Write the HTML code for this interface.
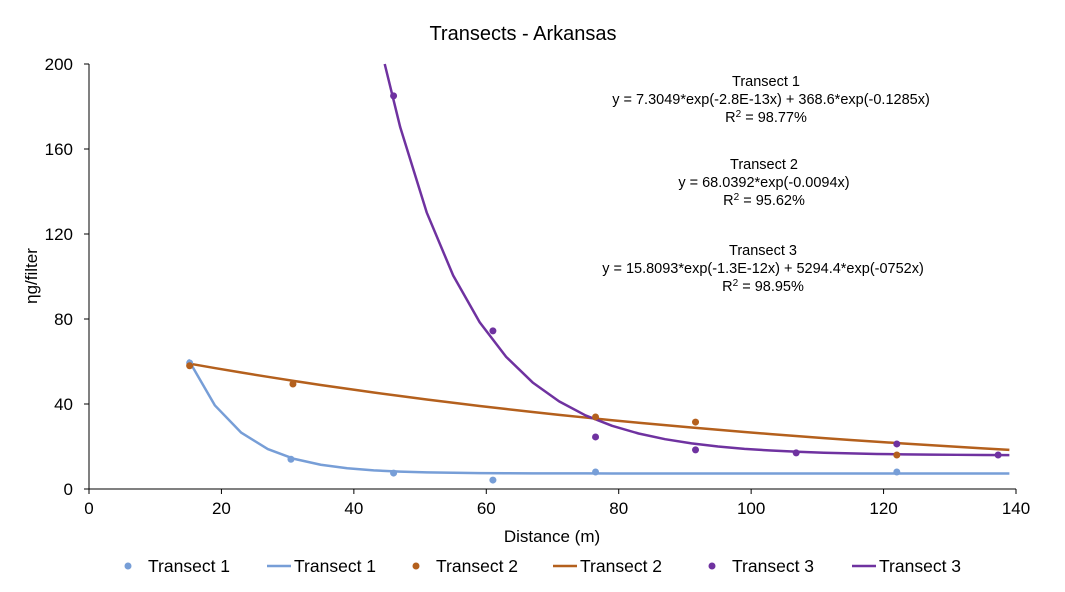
<!DOCTYPE html>
<html><head><meta charset="utf-8"><style>
body{margin:0;background:#fff;}
svg{display:block;font-family:"Liberation Sans",Arial,sans-serif;}
</style></head><body>
<svg id="chart" width="1065" height="592">
<rect width="1065" height="592" fill="#fff"/>
<text x="523" y="40" font-size="20" text-anchor="middle">Transects - Arkansas</text>
<g id="axes"></g>
<g id="lines"></g>
<g id="points"></g>
<g font-size="14.5" text-anchor="middle">
<text x="766" y="86">Transect 1</text>
<text x="771" y="104">y = 7.3049*exp(-2.8E-13x) + 368.6*exp(-0.1285x)</text>
<text x="766" y="122">R<tspan font-size="10" dy="-5">2</tspan><tspan dy="5"> = 98.77%</tspan></text>
<text x="764" y="169">Transect 2</text>
<text x="764" y="187">y = 68.0392*exp(-0.0094x)</text>
<text x="764" y="205">R<tspan font-size="10" dy="-5">2</tspan><tspan dy="5"> = 95.62%</tspan></text>
<text x="763" y="255">Transect 3</text>
<text x="763" y="273">y = 15.8093*exp(-1.3E-12x) + 5294.4*exp(-0752x)</text>
<text x="763" y="291">R<tspan font-size="10" dy="-5">2</tspan><tspan dy="5"> = 98.95%</tspan></text>
</g>
<text x="552" y="542" font-size="17" text-anchor="middle">Distance (m)</text>
<text x="0" y="0" font-size="17" text-anchor="middle" transform="translate(37,276) rotate(-90)">ηg/filter</text>
<g id="legend" font-size="17.5"></g>
</svg>
<script>
const xTicks=[0,20,40,60,80,100,120,140];
const yTicks=[0,40,80,120,160,200];
const t1x=[15.2,30.5,46,61,76.5,122];
const t1y=[59.3,14,7.5,4.2,8,8];
const t2x=[15.2,30.8,76.5,91.6,122];
const t2y=[58,49.4,33.9,31.5,16];
const t3x=[46,61,76.5,91.6,106.8,122,137.3];
const t3y=[185,74.4,24.5,18.4,17,21.2,16];
const fit1=[7.3049,368.6,-0.1285];
const fit2=[0,68.0392,-0.0094];
const fit3=[15.8093,5294.4,-0.0752];
const colors=['#779ed7','#b4601d','#6f32a0'];
const NS='http://www.w3.org/2000/svg';
const X=v=>89+v*(1016-89)/140;
const Y=v=>489-v*(489-64)/200;
function mk(tag,attrs,parent){const e=document.createElementNS(NS,tag);for(const k in attrs)e.setAttribute(k,attrs[k]);parent.appendChild(e);return e;}
const axes=document.getElementById('axes');
let a=mk('line',{x1:X(0),y1:Y(0),x2:X(140),y2:Y(0),stroke:'#000','stroke-width':1},axes);


a=mk('line',{x1:X(0),y1:Y(0),x2:X(0),y2:Y(200),stroke:'#000','stroke-width':1},axes);


xTicks.forEach(t=>{mk('line',{x1:X(t),y1:Y(0),x2:X(t),y2:Y(0)+5,stroke:'#000'},axes);
const tx=mk('text',{x:X(t),y:514,'font-size':17,'text-anchor':'middle'},axes);tx.textContent=t;

});
yTicks.forEach(t=>{mk('line',{x1:X(0)-5,y1:Y(t),x2:X(0),y2:Y(t),stroke:'#000'},axes);
const tx=mk('text',{x:73,y:Y(t)+6,'font-size':17,'text-anchor':'end'},axes);tx.textContent=t;

});
const lines=document.getElementById('lines');
[fit1,fit2,fit3].forEach((f,i)=>{const pts=[];
for(let x=15;x<=139.01;x+=4){let v=f[0]+f[1]*Math.exp(f[2]*x);if(v>200){const xe=Math.log((200-f[0])/f[1])/f[2];if(x+4>xe)pts.push([X(xe),Y(200)]);continue;}pts.push([X(x),Y(v)]);}
const last=f[0]+f[1]*Math.exp(f[2]*139);pts.push([X(139),Y(last)]);
const p=mk('polyline',{points:pts.map(q=>q.join(',')).join(' '),fill:'none',stroke:colors[i],'stroke-width':2.5,'stroke-linejoin':'round'},lines);

});
const pg=document.getElementById('points');
[[t1x,t1y],[t2x,t2y],[t3x,t3y]].forEach((s,i)=>{s[0].forEach((x,j)=>{
const c=mk('circle',{cx:X(x),cy:Y(s[1][j]),r:3.5,fill:colors[i]},pg);

});});
const lg=document.getElementById('legend');
const items=[[128,0,0],[267,0,1],[416,1,0],[553,1,1],[712,2,0],[852,2,1]];
items.forEach(([x,ci,isLine])=>{const g=mk('g',{},lg);


if(isLine)mk('line',{x1:x,y1:566,x2:x+24,y2:566,stroke:colors[ci],'stroke-width':2.5},g);
else mk('circle',{cx:x,cy:566,r:3.5,fill:colors[ci]},g);
const t=mk('text',{x:isLine?x+27:x+20,y:572},g);t.textContent='Transect '+(ci+1);});
</script>
</body></html>
